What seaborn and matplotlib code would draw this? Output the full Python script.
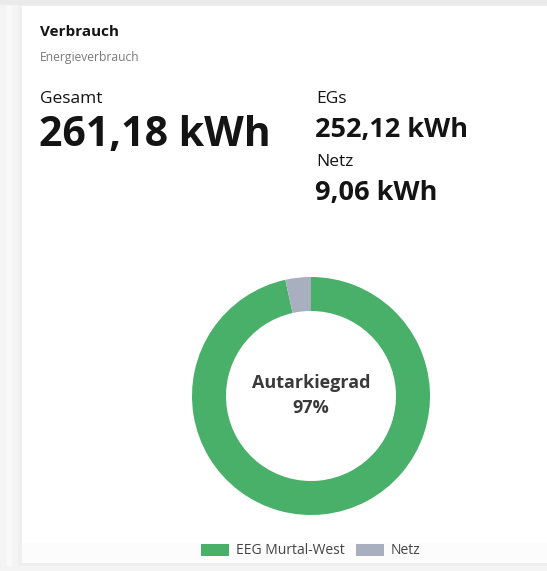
import matplotlib
matplotlib.use("Agg")
import matplotlib.pyplot as plt
from matplotlib.patches import Rectangle, Patch
import seaborn as sns

# data
card_title = "Verbrauch"
card_subtitle = "Energieverbrauch"
total_label = "Gesamt"
total_value = "261,18 kWh"
side_labels = ["EGs", "Netz"]
side_values = ["252,12 kWh", "9,06 kWh"]
categories = ["EEG Murtal-West", "Netz"]
consumption = [252.12, 9.06]
center_label = "Autarkiegrad"
center_value = "97%"
colors = ["#48b068", "#a8b0c0"]

sns.set_theme(style="white")
plt.rcParams['font.family'] = ['Open Sans', 'DejaVu Sans']

W, H = 547, 571
fig = plt.figure(figsize=(W / 100, H / 100), dpi=100)
fig.patch.set_facecolor("#f4f4f4")


def fx(x):
    return x / W


def fy(y):
    return 1 - y / H


# page background / card with a soft shadow
for i, c in enumerate(["#f9f9f9", "#f4f4f4", "#efefef"]):
    fig.patches.append(Rectangle((fx(6 + i * 6), fy(566)), 1, (566 - 4) / H,
                                 transform=fig.transFigure, facecolor=c,
                                 edgecolor="none", zorder=0))
fig.patches.append(Rectangle((fx(0), fy(5)), 1, 5 / H, transform=fig.transFigure,
                             facecolor="#ebebeb", edgecolor="none", zorder=0))
fig.patches.append(Rectangle((fx(22), fy(563)), 1, (563 - 6) / H,
                             transform=fig.transFigure, facecolor="white",
                             edgecolor="none", zorder=1))
fig.patches.append(Rectangle((fx(22), fy(563)), 1, 20 / H,
                             transform=fig.transFigure, facecolor="#fcfcfc",
                             edgecolor="none", zorder=1))

dark = "#141414"
fig.text(fx(40), fy(36), card_title, fontsize=11, fontweight="bold", color=dark, va="baseline")
fig.text(fx(40), fy(61), card_subtitle, fontsize=8.7, color="#7a7a7a", va="baseline")
fig.text(fx(40), fy(103), total_label, fontsize=12.5, color=dark, va="baseline")
fig.text(fx(39), fy(146), total_value, fontsize=29.5, fontweight="bold", color=dark, va="baseline")
fig.text(fx(316), fy(103), side_labels[0], fontsize=12.5, color=dark, va="baseline")
fig.text(fx(315), fy(137), side_values[0], fontsize=19.5, fontweight="bold", color=dark, va="baseline")
fig.text(fx(316), fy(166), side_labels[1], fontsize=12.5, color=dark, va="baseline")
fig.text(fx(315), fy(200), side_values[1], fontsize=19.5, fontweight="bold", color=dark, va="baseline")

# doughnut
cx, cy, r = 311, 396, 119
ax = fig.add_axes([fx(cx - r), fy(cy + r), 2 * r / W, 2 * r / H])
ax.pie(consumption, colors=colors, startangle=90, counterclock=False,
       radius=1, wedgeprops=dict(width=34 / r, linewidth=0))
ax.set_xlim(-1, 1)
ax.set_ylim(-1, 1)
ax.axis("off")
ax.set_zorder(2)

fig.text(fx(cx), fy(388), center_label, fontsize=13, fontweight="bold",
         color="#3a3a3a", ha="center", va="baseline", zorder=3)
fig.text(fx(cx), fy(413), center_value, fontsize=13, fontweight="bold",
         color="#3a3a3a", ha="center", va="baseline", zorder=3)

handles = [Patch(facecolor=c, edgecolor="none") for c in colors]
leg = fig.legend(handles, categories, loc="center", bbox_to_anchor=(fx(311), fy(551)),
                 ncol=2, frameon=False, fontsize=10, handlelength=2.0,
                 handleheight=1.0, handletextpad=0.5, columnspacing=0.8)
for t in leg.get_texts():
    t.set_color("#444444")

fig.savefig("out.png", dpi=100, facecolor=fig.get_facecolor())
